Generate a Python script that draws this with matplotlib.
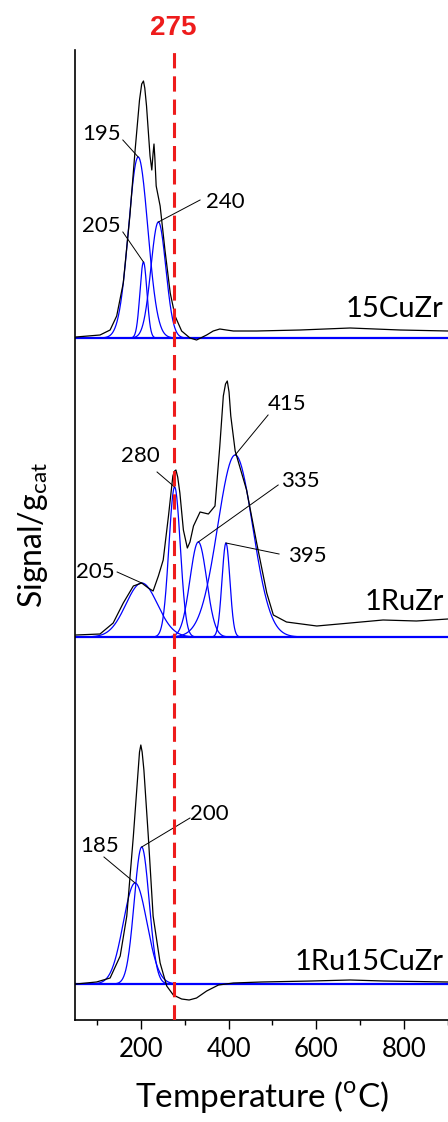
import numpy as np
import matplotlib.pyplot as plt

plt.rcParams['font.family'] = ['Lato', 'DejaVu Sans']
plt.rcParams['mathtext.fontset'] = 'custom'
plt.rcParams['mathtext.rm'] = 'Lato'

# measured TPR traces (temperature in C, signal in arbitrary units above each baseline)
cu_t = [52, 107, 130, 145, 160, 175, 187, 197, 202, 206, 209, 213, 221, 225, 228, 230, 232, 235,
        244, 255, 267, 278, 293, 312, 327, 350, 365, 380, 395, 411, 464, 563, 677, 791, 900]
cu_s = [1, 3, 8, 22, 55, 122, 188, 238, 254, 257, 250, 232, 182, 168, 185, 194, 180, 152,
        132, 88, 45, 22, 7, 0, -2, 3, 7, 9, 8, 7, 7, 8, 10, 8, 7]

ru_t = [52, 107, 137, 160, 183, 202, 217, 228, 240, 251, 263, 273, 277, 280, 284, 289, 297, 306,
        312, 320, 335, 354, 369, 380, 388, 393, 397, 401, 405, 415, 441, 464, 487, 502, 532,
        601, 677, 752, 828, 900]
ru_s = [2, 3, 14, 34, 51, 54, 49, 46, 61, 77, 121, 161, 166, 167, 160, 144, 107, 89,
        95, 111, 125, 123, 131, 191, 241, 253, 256, 245, 221, 186, 147, 94, 44, 22, 15,
        11, 14, 17, 16, 18]

rucu_t = [52, 99, 130, 153, 168, 183, 194, 197, 200, 203, 207, 217, 228, 244, 259, 274, 293,
          310, 327, 350, 377, 411, 475, 589, 677, 753, 900]
rucu_s = [0, 2, 6, 28, 68, 148, 214, 232, 239, 232, 214, 148, 68, 21, -2, -11, -15,
          -16, -14, -7, -1, 1, 2, 3, 4, 3, 2]

# fitted gaussian components: centre, height, sigma
cu_center = [194, 206, 240]
cu_height = [181, 76, 116]
cu_sigma = [22, 8, 17]
cu_labels = ['195', '205', '240']

ru_center = [202, 277, 331, 394, 415]
ru_height = [54, 150, 95, 94, 182]
ru_sigma = [36, 13, 19, 9, 40]
ru_labels = ['205', '280', '335', '395', '415']

rucu_center = [187, 202]
rucu_height = [101, 137]
rucu_sigma = [27, 17]
rucu_labels = ['185', '200']

names = ['15CuZr', '1RuZr', '1Ru15CuZr']
offsets = [682, 383, 36]

# where the peak labels sit (text x, text baseline y, leader start x, leader start y)
cu_label_pos = [(111, 880, 159, 880), (111, 788, 159, 788), (392, 812, 335, 820)]
ru_label_pos = [(96, 442, 146, 448), (198, 558, 237, 548), (563, 533, 513, 535),
                (579, 458, 515, 466), (533, 610, 490, 605)]
rucu_label_pos = [(105, 168, 116, 163), (355, 200, 312, 202)]
name_pos = [703, 410, 50]

temp = np.linspace(50, 900, 1500)

fig = plt.figure(figsize=(4.48, 11.22), dpi=100)
ax = fig.add_axes([75 / 448, 102 / 1122, 373 / 448, 970 / 1122])

traces = [(cu_t, cu_s), (ru_t, ru_s), (rucu_t, rucu_s)]
fits = [(cu_center, cu_height, cu_sigma, cu_labels, cu_label_pos),
        (ru_center, ru_height, ru_sigma, ru_labels, ru_label_pos),
        (rucu_center, rucu_height, rucu_sigma, rucu_labels, rucu_label_pos)]

for i in range(3):
    off = offsets[i]
    centers, heights, sigmas, labels, pos = fits[i]
    ax.plot(temp, np.zeros_like(temp) + off, c='#0000ff', lw=1.6, zorder=2)
    for c, h, s in zip(centers, heights, sigmas):
        ax.plot(temp, off + h * np.exp(-0.5 * ((temp - c) / s) ** 2), c='#0000ff', lw=0.9, zorder=2)
    t, sig = traces[i]
    ax.plot(t, np.array(sig) + off, c='black', lw=0.9, zorder=3)
    for c, h, lab, p in zip(centers, heights, labels, pos):
        ax.text(p[0], p[1], lab, fontsize=16, ha='center', va='baseline')
        ax.plot([p[2], c], [p[3], off + h], c='black', lw=0.7, zorder=4)
    ax.text(890, name_pos[i], names[i], fontsize=21, ha='right', va='baseline')

ax.axvline(275, color='#ee1c1c', lw=2.2, dashes=(5, 2.6), zorder=5)
ax.text(275, 992, '275', color='#ee1c1c', fontsize=20, fontweight='bold',
        family='Liberation Sans', ha='center', va='center', clip_on=False)

ax.set_xlim(50, 900)
ax.set_ylim(0, 970)
ax.spines['top'].set_visible(False)
ax.spines['right'].set_visible(False)
ax.spines['left'].set_linewidth(1.2)
ax.spines['bottom'].set_linewidth(1.2)
ax.set_yticks([])
ax.set_xticks([200, 400, 600, 800])
ax.set_xticks([100, 300, 500, 700, 900], minor=True)
ax.tick_params(axis='x', which='major', length=6.5, width=1, labelsize=18.5, pad=6)
ax.tick_params(axis='x', which='minor', length=3.5, width=1)
ax.set_xlabel('Temperature ($^{\\mathrm{o}}$C)', fontsize=24, labelpad=12)
ax.set_ylabel('Signal/g$_{\\mathrm{cat}}$', fontsize=23, labelpad=18)

fig.savefig('out.png', dpi=100)
